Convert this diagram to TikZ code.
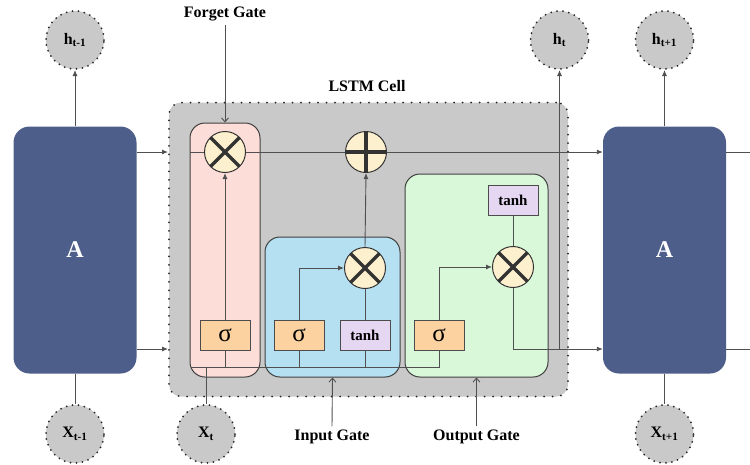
\documentclass[tikz,border=0pt]{standalone}
\usepackage{fontspec}
\setmainfont{Liberation Serif}
\usetikzlibrary{arrows.meta}
\definecolor{blockblue}{RGB}{77,94,138}
\definecolor{cellgray}{RGB}{201,201,201}
\definecolor{forgetpink}{RGB}{253,221,216}
\definecolor{inputblue}{RGB}{180,224,242}
\definecolor{outputgreen}{RGB}{217,247,217}
\definecolor{sigorange}{RGB}{252,211,160}
\definecolor{tanhlilac}{RGB}{229,214,242}
\definecolor{opcream}{RGB}{253,240,206}
\definecolor{wiregray}{RGB}{80,80,80}
\begin{document}
\begin{tikzpicture}[x=1pt, y=-1pt, >={Latex[length=6pt,width=5pt]},
  wire/.style={draw=wiregray, line width=0.9pt},
  flow/.style={wire, ->},
  pointer/.style={wire, -{Straight Barb[length=4pt,width=7pt]}},
  lbl/.style={font=\fontsize{16}{16}\selectfont\bfseries},
  block/.style={fill=blockblue, rounded corners=16, minimum width=123, minimum height=247, text=white, font=\fontsize{24}{24}\selectfont\bfseries},
  state/.style={circle, fill=cellgray, draw=black!85, line width=2pt, line cap=round, dash pattern=on 0pt off 6pt, minimum size=58, inner sep=0, font=\fontsize{16}{16}\selectfont\bfseries},
  gatebox/.style={draw=black!75, line width=1pt, rounded corners=15},
  func/.style={draw=black!70, line width=1pt, minimum width=50, minimum height=30, inner sep=0},
  sig/.style={func, fill=sigorange, font=\fontsize{25}{25}\selectfont},
  tanhbox/.style={func, fill=tanhlilac, font=\fontsize{15}{15}\selectfont\bfseries},
  op/.style={circle, draw=black!80, line width=1pt, fill=opcream, minimum size=41, inner sep=0},
  mult/.style={op, path picture={\draw[line width=3.5pt] (path picture bounding box.north west) -- (path picture bounding box.south east) (path picture bounding box.north east) -- (path picture bounding box.south west);}},
  add/.style={op, path picture={\draw[line width=3.5pt] (path picture bounding box.north) -- (path picture bounding box.south) (path picture bounding box.west) -- (path picture bounding box.east);}}]
\useasboundingbox (0,0) rectangle (750,464);

\node[fill=cellgray, draw=black!85, line width=2pt, line cap=round, dash pattern=on 0pt off 8.5pt, rounded corners=12, minimum width=399, minimum height=294] (cell) at (368.5,249.5) {};
\node[lbl] (celltitle) at (367,86) {LSTM Cell};

\node[gatebox, fill=forgetpink, minimum width=70, minimum height=254] (fgate) at (225,250) {};
\node[gatebox, fill=inputblue, minimum width=135, minimum height=140] (igate) at (332.5,307) {};
\node[gatebox, fill=outputgreen, minimum width=143, minimum height=203] (ogate) at (476.5,275.5) {};

\node[block] (blkL) at (75,250) {A};
\node[block] (blkR) at (664.5,250) {A};

\node[state] (hL) at (75,40) {h\textsubscript{t-1}};
\node[state] (xL) at (75,434) {X\textsubscript{t-1}};
\node[state] (xt) at (206,434) {X\textsubscript{t}};
\node[state] (ht) at (559.5,40) {h\textsubscript{t}};
\node[state] (hR) at (664.5,40) {h\textsubscript{t+1}};
\node[state] (xR) at (664.5,434) {X\textsubscript{t+1}};

\node[mult] (fmul) at (225,152) {};
\node[add] (addop) at (366,152) {};
\node[mult] (imul) at (365,268) {};
\node[mult] (omul) at (513,267) {};

\node[sig] (fsig) at (225,335) {σ};
\node[sig] (isig) at (299,335) {σ};
\node[tanhbox] (itanh) at (365,335) {tanh};
\node[sig] (osig) at (439,335) {σ};
\node[tanhbox] (otanh) at (513,200) {tanh};

\node[lbl] (fglabel) at (225,14) {Forget Gate};
\node[lbl] (iglabel) at (332,437) {Input Gate};
\node[lbl] (oglabel) at (476.5,437) {Output Gate};

\coordinate (busL) at (191,367);
\coordinate (busR) at (439,367);
\coordinate (hbase) at (559.5,349);
\coordinate (lowL) at (137,349);
\coordinate (outTop) at (750,152);
\coordinate (outBot) at (750,349);

\draw[flow] (blkL.north) -- (hL.south);
\draw[wire] (blkL.south) -- (xL.north);
\draw[flow] (blkR.north) -- (hR.south);
\draw[wire] (blkR.south) -- (xR.north);
\draw[flow] (blkL.east |- fmul) -- (cell.west |- fmul);
\draw[flow] (lowL) -- (cell.west |- lowL);

\draw[wire] (fgate.west |- fmul) -- (fmul.west);
\draw[wire] (fmul.east) -- (addop.west);
\draw[flow] (addop.east) -- (blkR.west |- addop);
\draw[wire] (blkR.east |- addop) -- (outTop);
\draw[wire] (blkR.east |- hbase) -- (outBot);

\draw[wire] (busL) -- (busR) -- (osig.south);
\draw[wire] (xt.north) -- (xt.north |- busL);
\foreach \b in {fsig,isig,itanh}
  \draw[wire] (\b.south) -- (\b.south |- busL);

\draw[flow] (fsig.north) -- (fmul.south);
\draw[flow] (isig.north) |- (imul.west);
\draw[wire] (itanh.north) -- (imul.south);
\draw[flow] (imul.north) -- (addop.south);
\draw[flow] (osig.north) |- (omul.west);
\draw[wire] (otanh.south) -- (omul.north);
\draw[flow] (omul.south) |- (blkR.west |- hbase);
\draw[flow] (hbase) -- (ht.south);

\draw[pointer] (fglabel.south) -- (fgate.north);
\draw[pointer] (iglabel.north) -- (igate.south);
\draw[pointer] (oglabel.north) -- (ogate.south);
\end{tikzpicture}
\end{document}
